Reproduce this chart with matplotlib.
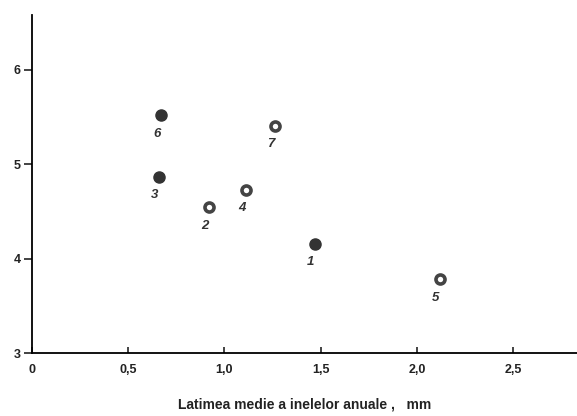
import matplotlib
matplotlib.use('Agg')
import matplotlib.pyplot as plt

# date
labels = ['1', '2', '3', '4', '5', '6', '7']
x_vals = [1.47, 0.92, 0.66, 1.11, 2.12, 0.67, 1.26]
y_vals = [4.16, 4.55, 4.87, 4.73, 3.78, 5.52, 5.41]
filled = [True, False, True, False, False, True, False]

x_ticks = [0, 0.5, 1.0, 1.5, 2.0, 2.5]
x_tick_labels = ['0', '0,5', '1,0', '1,5', '2,0', '2,5']
y_ticks = [3, 4, 5, 6]

plt.rcParams['font.family'] = ['Liberation Sans', 'DejaVu Sans']

fig = plt.figure(figsize=(5.77, 4.16), dpi=100)
ax = fig.add_axes([0.055, 0.151, 0.945, 0.813])

for x, y, lab, f in zip(x_vals, y_vals, labels, filled):
    if f:
        ax.plot(x, y, 'o', ms=8, color='#333333')
    else:
        ax.plot(x, y, 'o', ms=6.5, mfc='white', mec='#444444', mew=2.6)
    ax.annotate(lab, (x, y), xytext=(-3, -13.5), textcoords='offset points',
                ha='center', va='center', fontsize=9.5, fontstyle='italic',
                fontweight='bold', color='#333333')

ax.set_xlim(0, 2.83)
ax.set_ylim(3, 6.58)
ax.set_xticks(x_ticks)
ax.set_xticklabels(x_tick_labels)
ax.set_yticks(y_ticks)

ax.spines['top'].set_visible(False)
ax.spines['right'].set_visible(False)
ax.spines['left'].set_linewidth(1.3)
ax.spines['bottom'].set_linewidth(1.3)
ax.tick_params(axis='both', labelsize=9, width=1.2, colors='#222222')
ax.tick_params(axis='x', direction='in', length=4, pad=8)
ax.tick_params(axis='y', direction='out', length=6, pad=2)
for t in ax.get_xticklabels() + ax.get_yticklabels():
    t.set_fontweight('bold')

ax.set_xlabel('Latimea medie a inelelor anuale ,   mm', fontsize=10,
              fontweight='bold', color='#222222', labelpad=15)

fig.savefig('out.png', dpi=100)
